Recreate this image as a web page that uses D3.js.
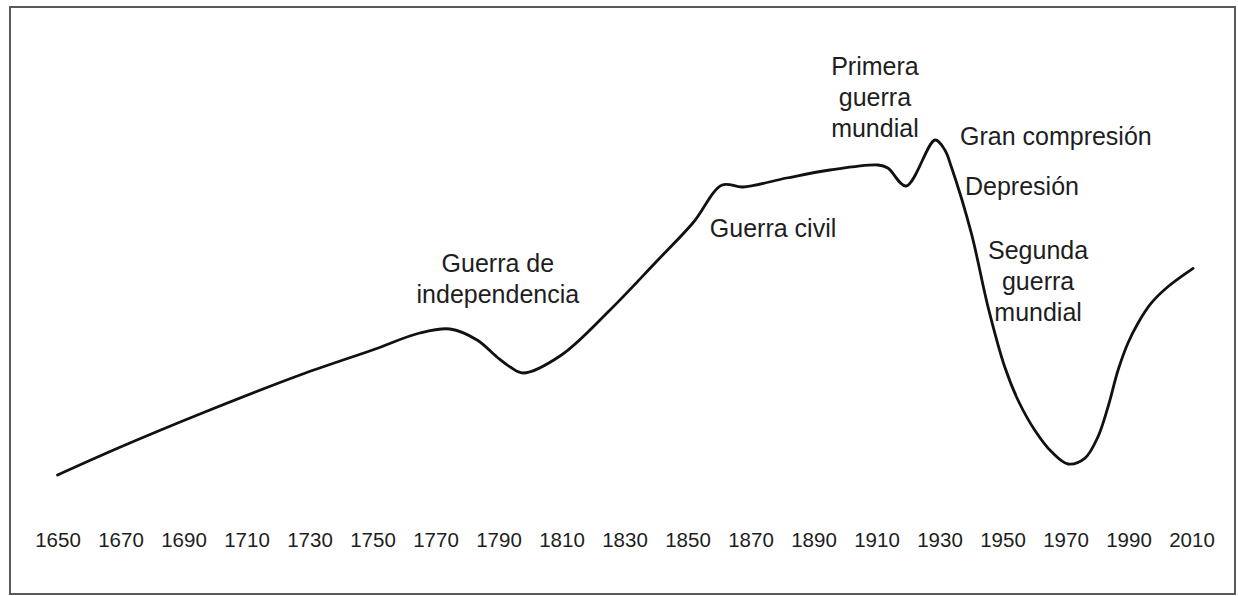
<!DOCTYPE html>
<html>
<head>
<meta charset="utf-8">
<script src="https://cdn.jsdelivr.net/npm/d3@7/dist/d3.min.js"></script>
<style>
  html, body { margin: 0; padding: 0; background: #fff; }
  svg { display: block; }
  text { font-family: "Liberation Sans", Arial, Helvetica, sans-serif; fill: #1e1e1e; }
</style>
</head>
<body>
<svg id="chart" width="1238" height="596"></svg>
<script>
// ---- data ----
const years = [1650, 1670, 1696, 1727, 1750, 1765, 1774.6, 1783.2, 1789.5, 1793.7, 1797.8, 1810, 1825.4, 1840, 1851.7, 1861, 1867.6, 1881.5, 1895.2, 1910.5, 1913.6, 1919.4, 1928.6, 1931.7, 1933.75, 1940.1, 1945.4, 1950.7, 1954.9, 1960.2, 1965.5, 1970.8, 1976.1, 1980.3, 1983.5, 1986.7, 1989.8, 1993, 1997.2, 2002.5, 2010.5];
const values = [6.25, 13.25, 21.75, 31.25, 37.5, 41.75, 42.75, 40, 35.75, 33.25, 31.75, 36.25, 47.5, 59.5, 69.25, 78.75, 78.25, 80.5, 82.5, 83.75, 83, 78.5, 90, 87.5, 83.3, 66.7, 48.3, 33.3, 25, 17.5, 12.1, 9, 10.4, 15.8, 23.3, 32.5, 39.2, 44.2, 49.2, 53.3, 57.9];
const tickYears = [1650, 1670, 1690, 1710, 1730, 1750, 1770, 1790, 1810, 1830, 1850, 1870, 1890, 1910, 1930, 1950, 1970, 1990, 2010];
const annotationLines = [
  ["Guerra de", "independencia"],
  ["Guerra civil"],
  ["Primera", "guerra", "mundial"],
  ["Gran compresión"],
  ["Depresión"],
  ["Segunda", "guerra", "mundial"]
];
const annotationYears = [1789.8, 1857.1, 1909.5, 1936.5, 1938.1, 1961.3];
const annotationValues = [57, 65.75, 106.25, 88.75, 76.25, 60.25];
const annotationAnchors = ["middle", "start", "middle", "start", "start", "middle"];

// ---- layout ----
const svg = d3.select("#chart");
const x = d3.scaleLinear().domain([1650, 2010]).range([57.5, 1191.5]);
const y = d3.scaleLinear().domain([0, 100]).range([500, 100]);

// frame
svg.append("rect")
  .attr("x", 10).attr("y", 7)
  .attr("width", 1225).attr("height", 587)
  .attr("fill", "none").attr("stroke", "#5a5a5a").attr("stroke-width", 2);

// curve
const pts = years.map((yr, i) => [yr, values[i]]);
const line = d3.line()
  .x(d => x(d[0])).y(d => y(d[1]))
  .curve(d3.curveCatmullRom.alpha(0.5));
svg.append("path")
  .datum(pts)
  .attr("d", line)
  .attr("fill", "none")
  .attr("stroke", "#111")
  .attr("stroke-width", 2.8)
  .attr("stroke-linejoin", "round")
  .attr("stroke-linecap", "round");

// x axis labels (no line, no ticks)
const axis = d3.axisBottom(x).tickValues(tickYears).tickFormat(d3.format("d")).tickSize(0);
const gx = svg.append("g").attr("transform", "translate(0,547)").call(axis);
gx.select(".domain").remove();
gx.selectAll("text")
  .attr("y", 0).attr("dy", 0)
  .style("font-family", "'Liberation Sans', Arial, sans-serif")
  .style("font-size", "20.5px")
  .style("fill", "#1e1e1e");

// annotations
annotationLines.forEach((lines, i) => {
  const t = svg.append("text")
    .attr("x", x(annotationYears[i]))
    .attr("y", y(annotationValues[i]))
    .attr("text-anchor", annotationAnchors[i])
    .style("font-size", "25px");
  lines.forEach((s, j) => {
    t.append("tspan")
      .attr("x", x(annotationYears[i]))
      .attr("dy", j === 0 ? 0 : 31)
      .text(s);
  });
});
</script>
</body>
</html>
